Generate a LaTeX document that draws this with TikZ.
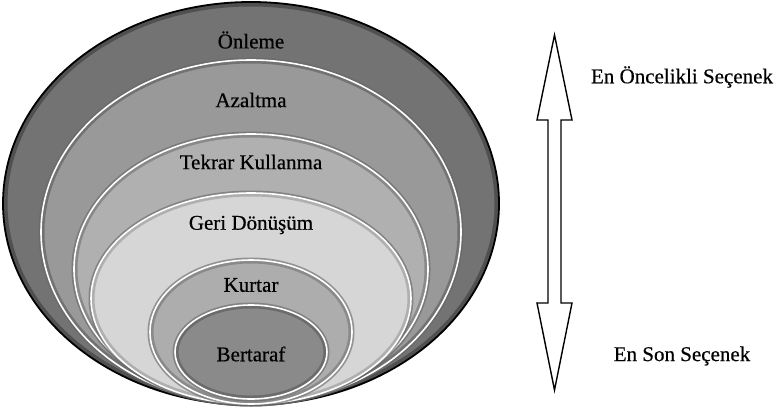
\documentclass[tikz,border=0pt]{standalone}
\usepackage{fontspec}
\setmainfont{Liberation Serif}
\newfontfamily\heavyserif[FakeBold=0.5]{Liberation Serif}
\begin{document}
\begin{tikzpicture}[x=1pt,y=-1pt,
  lbl/.style={font=\heavyserif\fontsize{21}{24}\selectfont, inner sep=0pt, text=black},
  ring/.style={draw=white, line width=1.6pt},
  blockarrow/.style={draw=black, line width=1.4pt, fill=white, line join=miter}]
\useasboundingbox (0,0) rectangle (778,409);
\definecolor{c1}{gray}{0.45}
\definecolor{c2}{gray}{0.60}
\definecolor{c3}{gray}{0.69}
\definecolor{c4}{gray}{0.84}
\definecolor{c5}{gray}{0.68}
\definecolor{c6}{gray}{0.54}
% outer
\fill[c1] (251,203.5) ellipse [x radius=248, y radius=201.5];
\begin{scope}
\clip (251,203.5) ellipse [x radius=248, y radius=201.5];
\draw[black, opacity=0.3, line width=9pt] (251,203.5) ellipse [x radius=248, y radius=201.5];
\end{scope}
\draw[black, line width=1.8pt] (251,203.5) ellipse [x radius=248, y radius=201.5];
% ring 2
\fill[c2] (251,232) ellipse [x radius=210, y radius=172];
\begin{scope}
\clip (251,232) ellipse [x radius=210, y radius=172];
\draw[black, opacity=0.25, line width=7pt] (251,232) ellipse [x radius=210, y radius=172];
\end{scope}
\draw[black!60, line width=3pt, opacity=0.6] (251,232) ellipse [x radius=211, y radius=173];
\draw[ring] (251,232) ellipse [x radius=210, y radius=172];
% ring 3
\fill[c3] (251,269) ellipse [x radius=177, y radius=135];
\begin{scope}
\clip (251,269) ellipse [x radius=177, y radius=135];
\draw[black, opacity=0.22, line width=7pt] (251,269) ellipse [x radius=177, y radius=135];
\end{scope}
\draw[black!60, line width=3pt, opacity=0.6] (251,269) ellipse [x radius=178, y radius=136];
\draw[ring] (251,269) ellipse [x radius=177, y radius=135];
% ring 4
\fill[c4] (251,298.5) ellipse [x radius=160, y radius=105.5];
\begin{scope}
\clip (251,298.5) ellipse [x radius=160, y radius=105.5];
\draw[black, opacity=0.18, line width=7pt] (251,298.5) ellipse [x radius=160, y radius=105.5];
\end{scope}
\draw[black!60, line width=3pt, opacity=0.6] (251,298.5) ellipse [x radius=161, y radius=106.5];
\draw[ring] (251,298.5) ellipse [x radius=160, y radius=105.5];
% ring 5
\fill[c5] (251,332) ellipse [x radius=101, y radius=72];
\begin{scope}
\clip (251,332) ellipse [x radius=101, y radius=72];
\draw[black, opacity=0.2, line width=7pt] (251,332) ellipse [x radius=101, y radius=72];
\end{scope}
\draw[black!60, line width=3pt, opacity=0.6] (251,332) ellipse [x radius=102, y radius=73];
\draw[ring] (251,332) ellipse [x radius=101, y radius=72];
% ring 6
\fill[c6] (251,352) ellipse [x radius=76, y radius=47];
\begin{scope}
\clip (251,352) ellipse [x radius=76, y radius=47];
\draw[black, opacity=0.22, line width=7pt] (251,352) ellipse [x radius=76, y radius=47];
\end{scope}
\draw[black!60, line width=3pt, opacity=0.6] (251,352) ellipse [x radius=77, y radius=48];
\draw[ring] (251,352) ellipse [x radius=76, y radius=47];
% labels
\node[lbl] (onleme) at (251,40) {Önleme};
\node[lbl] (azaltma) at (251,100) {Azaltma};
\node[lbl] (tekrar) at (251,162) {Tekrar Kullanma};
\node[lbl] (geri) at (251,225) {Geri Dönüşüm};
\node[lbl] (kurtar) at (251,285) {Kurtar};
\node[lbl] (bertaraf) at (251,354) {Bertaraf};
% double block arrow
\draw[blockarrow] (554.5,35) -- (572,120) -- (561,120) -- (561,303) -- (572,303)
  -- (554.5,390) -- (537,303) -- (548,303) -- (548,120) -- (537,120) -- cycle;
\node[lbl] (top) at (682,77) {En Öncelikli Seçenek};
\node[lbl] (bottom) at (682,356) {En Son Seçenek};
\end{tikzpicture}
\end{document}
